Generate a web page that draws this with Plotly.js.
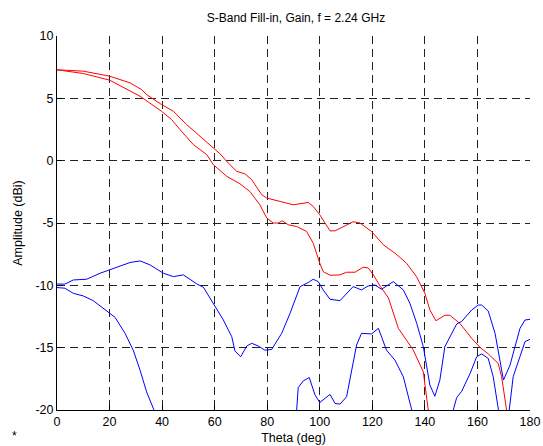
<!DOCTYPE html>
<html>
<head>
<meta charset="utf-8">
<script src="https://cdn.plot.ly/plotly-3.0.1.min.js"></script>
<style>html,body{margin:0;padding:0;background:#fff;}#chart{width:543px;height:446px;}</style>
</head>
<body>
<div id="chart"></div>
<script>
// Red curve 1 (upper)
var redATheta = [0, 10, 20, 27.8, 32.2, 34.1, 39.8, 44.3, 49.3, 54.4, 59.5, 62, 65.2, 68.4, 71.5, 74.1, 77.9, 79.8, 84.9, 89.9, 95.6, 97.5, 100, 103.9, 105.8, 108.9, 112.7, 115.3, 119.7, 124.2, 128.6, 133, 136.8, 140, 141.9, 144.2, 147.6, 149.5, 153.3, 157.8, 161, 164.1, 167.9, 169.2, 171.1, 172.5];
var redAGain  = [7.29, 7.18, 6.78, 6.24, 5.7, 5.3, 4.5, 3.96, 2.9, 1.95, 1.02, 0.56, -0.19, -0.86, -1.05, -1.53, -2.73, -3.0, -3.27, -3.54, -3.35, -3.67, -4.34, -5.63, -5.63, -5.28, -4.9, -5.0, -5.68, -6.75, -7.42, -8.22, -9.3, -10.64, -11.98, -12.84, -12.4, -12.4, -13.05, -14.25, -14.98, -15.5, -16.26, -17.33, -20, -22];

// Red curve 2 (lower)
var redBTheta = [0, 10, 20, 26.5, 31.6, 39.8, 43.6, 46.8, 51.9, 57, 59.5, 64.6, 69.6, 73.4, 77.2, 79.8, 82.3, 84.2, 85.7, 88, 91.2, 95, 97.5, 100, 101.3, 103.9, 107.7, 110.2, 113.4, 116.5, 118.4, 120.4, 123, 126.1, 129.9, 133, 135.6, 139.4, 140, 141.3, 142.5];
var redBGain  = [7.29, 6.99, 6.46, 5.76, 5.17, 3.96, 3.3, 2.49, 1.29, 0.48, -0.32, -1.26, -1.85, -2.47, -3.54, -4.6, -5.0, -5.0, -4.82, -5.14, -5.28, -5.68, -6.62, -8.22, -8.9, -9.19, -9.16, -8.95, -8.95, -8.55, -8.6, -9.16, -10.07, -11.0, -13.45, -14.4, -15.2, -16.94, -17.9, -20, -22];

// Blue curve 1 (upper)
var blueATheta = [0, 3, 6.2, 11.3, 16.4, 20.2, 24, 27.8, 31.6, 35.4, 40.5, 44.3, 48.1, 53.2, 55.7, 59.5, 63.3, 66.5, 67.7, 69.9, 72.2, 74.1, 76.6, 79.1, 81.7, 85.5, 88.7, 92.5, 95.6, 97.5, 99.4, 101.3, 103.9, 107.7, 110.2, 112.7, 115.9, 118.4, 121, 123.5, 128, 131.8, 134.3, 136.9, 139.4, 141.9, 143.8, 145.7, 147.6, 152.1, 154, 157.8, 160.3, 161.6, 164.1, 166.7, 169.9, 172.4, 176.2, 178.1, 180];
var blueAGain  = [-9.9, -9.9, -9.57, -9.51, -9.03, -8.76, -8.5, -8.17, -8.04, -8.36, -9.03, -9.3, -9.16, -9.89, -10.15, -11.44, -12.78, -14.12, -15.25, -15.73, -14.87, -14.65, -14.87, -15.2, -15.14, -13.85, -12.24, -10.1, -9.78, -9.51, -9.7, -10.37, -11.12, -11.23, -10.64, -10.1, -10.37, -10.05, -9.97, -10.31, -9.7, -10.37, -11.44, -13.05, -14.92, -18.0, -18.9, -17.6, -14.92, -13.1, -12.9, -11.98, -11.58, -11.58, -12.06, -13.85, -17.6, -16.4, -13.45, -12.78, -12.73];

// Blue curve 2 (lower)
var blueBTheta = [0, 3, 6.2, 10, 13.8, 17.6, 20.2, 22.1, 25.9, 29, 31.6, 34.1, 36.9, 40, 88, 91.2, 91.8, 93.7, 96, 98.2, 100, 103.9, 105.8, 107.7, 110.2, 114, 115.9, 119.7, 122.3, 125.4, 128.6, 131.8, 135, 138, 148, 150.8, 152.1, 154, 157.2, 159.7, 161.6, 164.1, 166, 168, 170, 172.1, 173.6, 176.2, 178.1, 180];
var blueBGain  = [-10.18, -10.23, -10.64, -10.85, -11.23, -11.84, -12.3, -12.57, -13.85, -15.2, -16.8, -18.55, -20, -24, -24, -20, -18.2, -17.67, -17.4, -18.8, -19.4, -18.75, -19.47, -19.53, -18.94, -14.79, -13.85, -13.9, -13.45, -15.2, -16, -17.34, -20, -24, -24, -20, -19.0, -18.5, -17.07, -15.73, -15.5, -15.86, -17.33, -20, -22, -20, -17.33, -15.73, -14.52, -14.33];

var xTicks = [0, 20, 40, 60, 80, 100, 120, 140, 160, 180];
var yTicks = [-20, -15, -10, -5, 0, 5, 10];

var titleText = 'S-Band Fill-in, Gain, f = 2.24 GHz';
var xTitle = 'Theta (deg)';
var yTitle = 'Amplitude (dBi)';

function line(x, y, color) {
  return {x: x, y: y, type: 'scatter', mode: 'lines', line: {color: color, width: 1}, hoverinfo: 'skip', showlegend: false};
}

var data = [
  line(redATheta, redAGain, '#ff0000'),
  line(redBTheta, redBGain, '#ff0000'),
  line(blueATheta, blueAGain, '#0000ff'),
  line(blueBTheta, blueBGain, '#0000ff')
];

var font = {family: 'Liberation Sans, Arial, sans-serif', size: 12, color: '#000'};

var layout = {
  width: 543, height: 446,
  margin: {l: 57, r: 13, t: 36, b: 36, pad: 0},
  paper_bgcolor: '#fff', plot_bgcolor: '#fff',
  font: font,
  showlegend: false,
  title: {text: titleText, font: {family: font.family, size: 12, color: '#000'}, x: 0.545, xanchor: 'center', y: 0.96, yanchor: 'middle'},
  xaxis: {
    range: [0, 180], tickvals: xTicks, ticktext: xTicks.map(String),
    ticks: 'inside', ticklen: 5, tickcolor: '#000', tickwidth: 1,
    showline: true, linecolor: '#000', linewidth: 1, mirror: false,
    showgrid: true, gridcolor: '#222', gridwidth: 1, griddash: '8px,5px',
    zeroline: false, fixedrange: true,
    tickfont: {family: font.family, size: 12.5, color: '#000'},
    title: {text: xTitle, font: {family: font.family, size: 12.5, color: '#000'}, standoff: 5}
  },
  yaxis: {
    range: [-20, 10], tickvals: yTicks, ticktext: yTicks.map(String),
    ticks: 'inside', ticklen: 5, tickcolor: '#000', tickwidth: 1,
    showline: true, linecolor: '#000', linewidth: 1, mirror: false,
    showgrid: true, gridcolor: '#222', gridwidth: 1, griddash: '8px,5px',
    zeroline: false, fixedrange: true,
    tickfont: {family: font.family, size: 12.5, color: '#000'},
    title: {text: yTitle, font: {family: font.family, size: 12.5, color: '#000'}, standoff: 10}
  },
  annotations: [
    {text: '*', xref: 'paper', yref: 'paper', x: -0.09, y: -0.07, xanchor: 'center', yanchor: 'middle', showarrow: false, font: {family: font.family, size: 12, color: '#000'}}
  ]
};

Plotly.newPlot('chart', data, layout, {staticPlot: true, displayModeBar: false});
</script>
</body>
</html>
